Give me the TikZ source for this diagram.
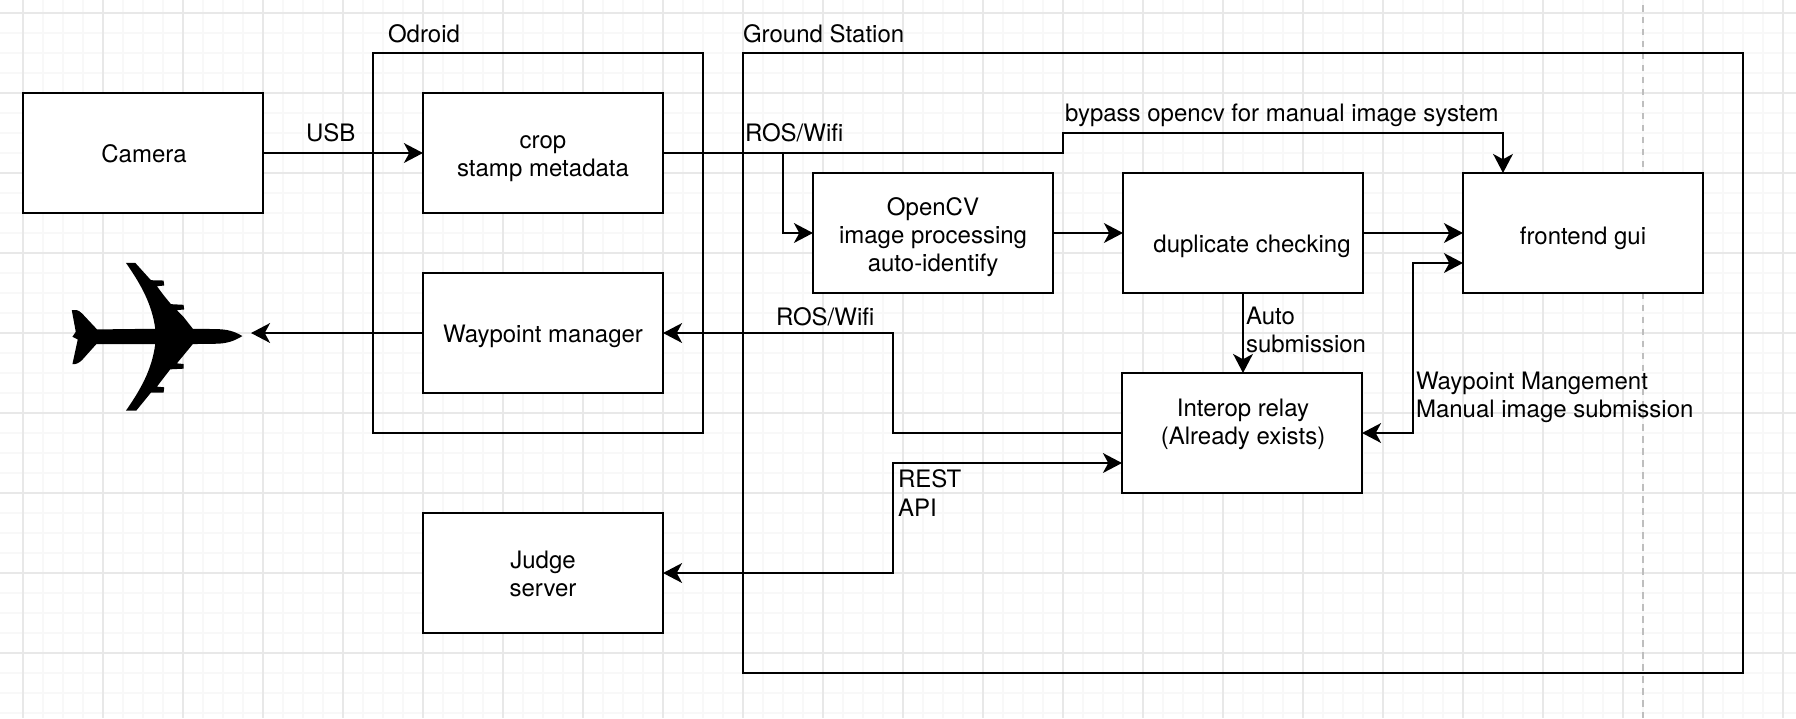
\documentclass[tikz,border=0pt]{standalone}
\usepackage{fontspec}
\setmainfont{TeX Gyre Heros}
\usetikzlibrary{arrows.meta}
\definecolor{gridmajor}{HTML}{E8E8E8}
\definecolor{gridminor}{HTML}{F8F8F8}
\definecolor{pagedash}{HTML}{BEBEBE}
\newcommand{\dropto}[1]{\rule{0pt}{#1}}
\tikzset{
  boxnode/.style={draw=black,fill=white,line width=0.75pt,minimum width=2.4cm,minimum height=1.2cm,outer sep=0pt,inner sep=0pt,align=center,font=\fontsize{6.83pt}{8pt}\selectfont},
  labelnode/.style={anchor=west,inner sep=0pt,outer sep=0pt,align=left,font=\fontsize{6.83pt}{8pt}\selectfont},
  wire/.style={line width=0.75pt,-{Stealth[length=5.4pt,width=5.6pt,inset=1.5pt]}},
  wireboth/.style={line width=0.75pt,{Stealth[length=5.4pt,width=5.6pt,inset=1.5pt]}-{Stealth[length=5.4pt,width=5.6pt,inset=1.5pt]}}
}
\begin{document}
\begin{tikzpicture}[y=-1cm]
\useasboundingbox (0,0) rectangle (17.96,7.18);
\fill[white] (0,0) rectangle (17.96,7.18);
% grid
\foreach \x in {0,...,89} \draw[gridminor,line width=0.35pt] (0.23+\x*0.2,0) -- (0.23+\x*0.2,7.18);
\foreach \y in {0,...,35} \draw[gridminor,line width=0.35pt] (0,0.13+\y*0.2) -- (17.96,0.13+\y*0.2);
\foreach \x in {0,...,22} \draw[gridmajor,line width=0.35pt] (0.23+\x*0.8,0) -- (0.23+\x*0.8,7.18);
\foreach \y in {0,...,8} \draw[gridmajor,line width=0.35pt] (0,0.13+\y*0.8) -- (17.96,0.13+\y*0.8);
\draw[pagedash,line width=0.5pt,dash pattern=on 1.85pt off 1.56pt] (16.43,0.05) -- (16.43,7.18);
% containers
\draw[line width=0.75pt] (3.73,0.53) rectangle (7.03,4.33);
\draw[line width=0.75pt] (7.43,0.53) rectangle (17.43,6.73);
\path (3.88,0.34)node[labelnode] (odroidLabel) {Odroid};
\path (7.43,0.34)node[labelnode] (groundLabel) {Ground Station};
% boxes
\path (1.43,1.53)node[boxnode] (camera) {\dropto{5.65pt}\hspace*{0.02cm}Camera};
\path (5.43,1.53)node[boxnode] (crop) {\dropto{6.7pt}crop\\stamp metadata};
\path (5.43,3.33)node[boxnode] (waypoint) {\dropto{6.9pt}Waypoint manager};
\path (5.43,5.73)node[boxnode] (judge) {\dropto{5.65pt}Judge\\server};
\path (9.33,2.33)node[boxnode] (opencv) {\dropto{7.6pt}OpenCV\\image processing\\auto-identify};
\path (12.43,2.33)node[boxnode] (duplicate) {\dropto{12.4pt}\hspace*{0.18cm}duplicate checking};
\path (15.83,2.33)node[boxnode] (frontend) {\dropto{8.2pt}frontend gui};
\path (12.42,4.33)node[boxnode] (interop) {\dropto{6.6pt}\hspace*{0.02cm}Interop relay\\\hspace*{0.02cm}(Already exists)\\~};
% plane
\begin{scope}[shift={(0.006,2.303)},x=0.003333cm,y=-0.003333cm]
\fill[black] (727,318) .. controls (700,302) and (680,298) .. (650,297) -- (578,296) -- (548,258) -- (530,240) -- (552,238) -- (550,224) -- (512,222) -- (490,195) -- (470,168) -- (492,166) -- (490,151) -- (452,150) -- (405,98) -- (377,98) .. controls (420,160) and (455,220) .. (465,296) -- (290,298) -- (245,250) .. controls (232,238) and (225,238) .. (214,240) -- (226,305) -- (216,320) -- (232,328) -- (216,402) .. controls (228,404) and (236,398) .. (245,390) -- (288,342) -- (465,342) .. controls (455,420) and (420,480) .. (377,542) -- (408,542) -- (452,488) -- (490,488) -- (492,472) -- (470,470) -- (510,418) -- (550,416) -- (550,402) -- (530,400) -- (578,342) -- (650,341) .. controls (680,340) and (700,334) .. (727,318) -- cycle;
\end{scope}
\coordinate (planeNose) at (2.51,3.33);
% connectors
\draw[wire] (camera.east) -- (crop.west);
\path (3.06,1.33)node[labelnode] (usbLabel) {USB};
\coordinate (bypassA) at (10.63,1.53);
\coordinate (bypassB) at (10.63,1.33);
\coordinate (bypassC) at (15.03,1.33);
\coordinate (bypassD) at (15.03,1.73);
\draw[wire] (crop.east) -- (bypassA) -- (bypassB) -- (bypassC) -- (bypassD);
\coordinate (rosTap) at (7.83,1.53);
\draw[wire] (rosTap) |- (opencv.west);
\path (7.45,1.33)node[labelnode] (rosUpLabel) {ROS/Wifi};
\path (10.65,1.15)node[labelnode] (bypassLabel) {bypass opencv for manual image system};
\draw[wire] (opencv.east) -- (duplicate.west);
\draw[wire] (duplicate.east) -- (frontend.west);
\draw[wire] (duplicate.south) -- (duplicate.south |- interop.north);
\path (12.46,3.3)node[labelnode] (autoLabel) {Auto\\submission};
\coordinate (frontendLow) at (14.63,2.63);
\coordinate (manualBend) at (14.13,2.63);
\draw[wireboth] (frontendLow) -- (manualBend) |- (interop.east);
\path (14.16,3.97)node[labelnode] (manualLabel) {Waypoint Mangement\\Manual image submission};
\coordinate (relayBend) at (8.93,4.33);
\draw[wire] (interop.west) -- (relayBend) |- (waypoint.east);
\path (7.76,3.17)node[labelnode] (rosDownLabel) {ROS/Wifi};
\draw[wire] (waypoint.west) -- (planeNose);
\coordinate (relayLow) at (11.22,4.63);
\coordinate (restBend) at (8.93,4.63);
\draw[wireboth] (relayLow) -- (restBend) |- (judge.east);
\path (8.98,4.93)node[labelnode] (restLabel) {REST\\API};
\end{tikzpicture}
\end{document}
